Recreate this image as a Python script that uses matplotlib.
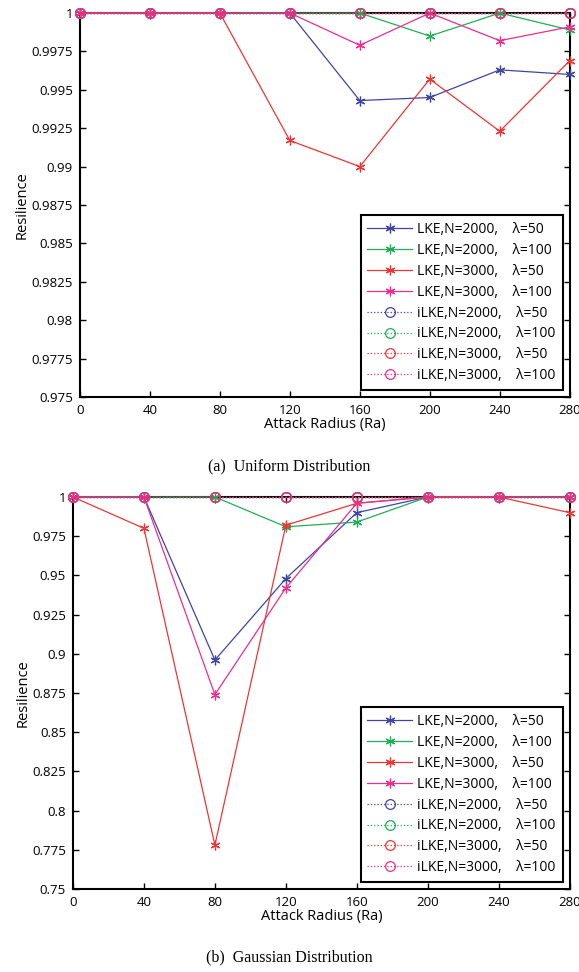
import matplotlib
matplotlib.use("Agg")
import matplotlib.pyplot as plt
import numpy as np

plt.rcParams['font.family'] = ['Open Sans', 'DejaVu Sans']

# attack radius
radius = [0, 40, 80, 120, 160, 200, 240, 280]

# (a) Uniform distribution
uni_lke_2000_50 = [1, 1, 1, 1, 0.9943, 0.9945, 0.9963, 0.9960]
uni_lke_2000_100 = [1, 1, 1, 1, 1, 0.9985, 1, 0.9989]
uni_lke_3000_50 = [1, 1, 1, 0.9917, 0.9900, 0.9957, 0.9923, 0.9969]
uni_lke_3000_100 = [1, 1, 1, 1, 0.9979, 1, 0.9982, 0.9991]
uni_ilke = [1, 1, 1, 1, 1, 1, 1, 1]

# (b) Gaussian distribution
gau_lke_2000_50 = [1, 1, 0.896, 0.948, 0.990, 1, 1, 1]
gau_lke_2000_100 = [1, 1, 1, 0.981, 0.984, 1, 1, 1]
gau_lke_3000_50 = [1, 0.980, 0.778, 0.982, 0.996, 1, 1, 0.990]
gau_lke_3000_100 = [1, 1, 0.874, 0.942, 0.996, 1, 1, 1]
gau_ilke = [1, 1, 1, 1, 1, 1, 1, 1]

names = ['N=2000,    \u03bb=50', 'N=2000,    \u03bb=100', 'N=3000,    \u03bb=50', 'N=3000,    \u03bb=100']
colors = ['#3f45a5', '#1fae55', '#ee3535', '#ee2d8e']
star = (6, 2, 0)

fig = plt.figure(figsize=(5.79, 9.72), dpi=100)
ax1 = fig.add_axes([0.138, 0.5916, 0.846, 0.395])
ax2 = fig.add_axes([0.126, 0.0854, 0.858, 0.4033])


def draw(ax, lke, ilke, ymin, step, yticklabels):
    for vals, c, n in zip(lke, colors, names):
        ax.plot(radius, vals, color=c, lw=0.9, marker=star, ms=7, mew=0.9,
                label='LKE,' + n, clip_on=False, zorder=3)
    for c, n in zip(colors, names):
        ax.plot(radius, ilke, color=c, lw=0.9, ls=':', marker='o', ms=7,
                mfc='none', mew=0.9, label='iLKE,' + n, clip_on=False, zorder=3)
    ax.set_xlim(0, 280)
    ax.set_ylim(ymin, 1)
    ax.set_xticks(radius)
    ax.set_yticks(np.arange(ymin, 1 + step / 2, step))
    ax.set_yticklabels(yticklabels)
    ax.tick_params(direction='in', top=True, right=True, labelsize=9.5,
                   length=4, width=1, pad=5)
    for s in ax.spines.values():
        s.set_linewidth(1.5)
    ax.set_xlabel('Attack Radius (Ra)', fontsize=10.5, labelpad=0)
    ax.set_ylabel('Resilience', fontsize=10.5, labelpad=1)
    leg = ax.legend(loc='lower right', fontsize=10, frameon=True, fancybox=False,
                    edgecolor='black', framealpha=1, borderaxespad=0.5,
                    handlelength=3.2, labelspacing=0.42, borderpad=0.5,
                    handletextpad=0.4)
    leg.get_frame().set_linewidth(1.5)


draw(ax1, [uni_lke_2000_50, uni_lke_2000_100, uni_lke_3000_50, uni_lke_3000_100],
     uni_ilke, 0.975, 0.0025,
     ['0.975', '0.9775', '0.98', '0.9825', '0.985', '0.9875', '0.99',
      '0.9925', '0.995', '0.9975', '1'])
draw(ax2, [gau_lke_2000_50, gau_lke_2000_100, gau_lke_3000_50, gau_lke_3000_100],
     gau_ilke, 0.75, 0.025,
     ['0.75', '0.775', '0.8', '0.825', '0.85', '0.875', '0.9',
      '0.925', '0.95', '0.975', '1'])

fig.text(0.5, 1 - 466 / 972, '(a)  Uniform Distribution', ha='center', va='center',
         fontsize=11.5, family='Liberation Serif')
fig.text(0.5, 1 - 957 / 972, '(b)  Gaussian Distribution', ha='center', va='center',
         fontsize=11.5, family='Liberation Serif')

fig.savefig('out.png', dpi=100)
